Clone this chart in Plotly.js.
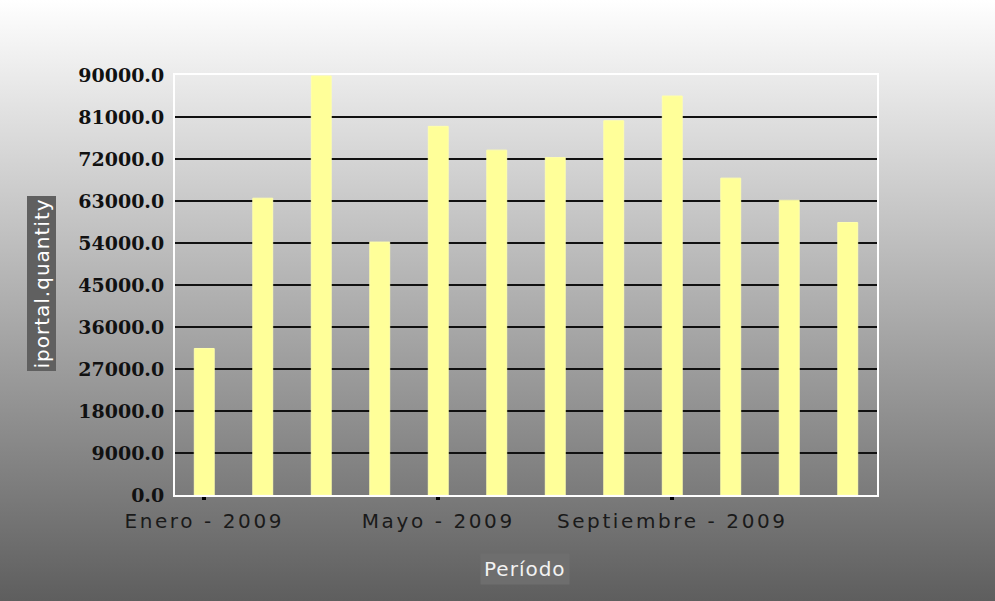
<!DOCTYPE html>
<html>
<head>
<meta charset="utf-8">
<script src="https://cdn.plot.ly/plotly-3.0.1.min.js"></script>
<style>
html,body{margin:0;padding:0;}
body{width:995px;height:601px;background:linear-gradient(to bottom,#ffffff 0%,#5e5e5e 100%);overflow:hidden;}
#chart{width:995px;height:601px;}
.xtick text{letter-spacing:2.6px;}
.annotation-text{letter-spacing:1px;}
</style>
</head>
<body>
<div id="chart"></div>
<script>
const months = ["Enero - 2009","Febrero - 2009","Marzo - 2009","Abril - 2009","Mayo - 2009","Junio - 2009",
  "Julio - 2009","Agosto - 2009","Septiembre - 2009","Octubre - 2009","Noviembre - 2009","Diciembre - 2009"];
const quantity = [31400, 63600, 89800, 54200, 79000, 73900, 72300, 80200, 85500, 67900, 63150, 58400];
const shownTicks = ["Enero - 2009","Mayo - 2009","Septiembre - 2009"];
const yTicks = [0,9000,18000,27000,36000,45000,54000,63000,72000,81000,90000];
const yTickText = yTicks.map(v => v.toFixed(1));

const trace = {
  type: "bar",
  x: months,
  y: quantity,
  marker: {color: "#ffff99", line: {color: "#ffffaa", width: 1}},
  hoverinfo: "x+y"
};

const layout = {
  width: 995, height: 601,
  margin: {l: 175, r: 118, t: 75, b: 106},
  paper_bgcolor: "rgba(0,0,0,0)",
  plot_bgcolor: "rgba(0,0,0,0)",
  bargap: 0.66,
  showlegend: false,
  xaxis: {
    type: "category",
    tickmode: "array",
    tickvals: shownTicks,
    ticktext: shownTicks,
    ticks: "outside", ticklen: 3, tickwidth: 4, tickcolor: "#000000",
    ticklabelstandoff: 4,
    tickfont: {family: "DejaVu Sans", size: 20, color: "#1a1a1a"},
    showline: true, linecolor: "#ffffff", linewidth: 2, mirror: true,
    showgrid: false,
    fixedrange: true
  },
  yaxis: {
    range: [0, 90000],
    tickmode: "array",
    tickvals: yTicks,
    ticktext: yTickText,
    ticks: "",
    ticklabelstandoff: 5,
    tickfont: {family: "DejaVu Serif", size: 19, color: "#111111", weight: "bold"},
    showgrid: true, gridcolor: "#111111", gridwidth: 2,
    zeroline: false,
    showline: true, linecolor: "#ffffff", linewidth: 2, mirror: true,
    fixedrange: true
  },
  annotations: [
    {
      text: "iportal.quantity", textangle: -90,
      xref: "paper", yref: "paper",
      x: (41 - 175) / 702, y: (495 - 283.5) / 420,
      xanchor: "center", yanchor: "middle",
      showarrow: false,
      bgcolor: "#606060", borderpad: 2,
      font: {family: "DejaVu Sans", size: 20, color: "#ffffff"}
    },
    {
      text: "Período",
      xref: "paper", yref: "paper",
      x: (525 - 175) / 702, y: (495 - 569) / 420,
      xanchor: "center", yanchor: "middle",
      showarrow: false,
      bgcolor: "#6e6e6e", borderpad: 3,
      font: {family: "DejaVu Sans", size: 20, color: "#f2f2f2"}
    }
  ]
};

Plotly.newPlot("chart", [trace], layout, {displayModeBar: false, staticPlot: true});
</script>
</body>
</html>
